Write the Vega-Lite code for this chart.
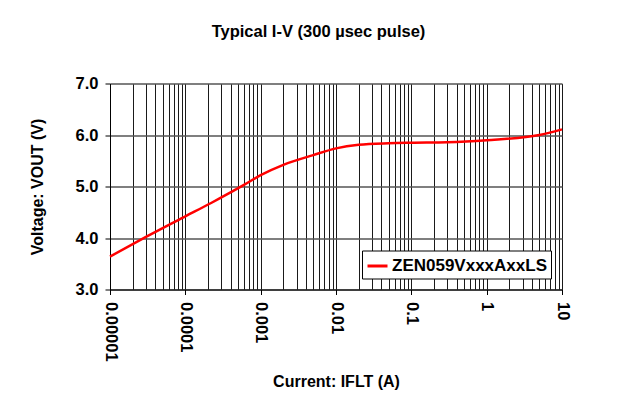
{
  "$schema": "https://vega.github.io/schema/vega-lite/v6.json",
  "width": 452,
  "height": 206,
  "autosize": {"type": "none"},
  "padding": {"left": 110, "top": 83.5, "right": 74, "bottom": 116.5},
  "background": "white",
  "title": {
    "text": "Typical I-V (300 µsec pulse)",
    "font": "Liberation Sans",
    "fontSize": 16.5,
    "fontWeight": "bold",
    "color": "black",
    "anchor": "middle",
    "baseline": "alphabetic",
    "dx": -17.5,
    "offset": 22
  },
  "data": {
    "values": [
      {"current": 0.00001, "voltage": 3.64, "series": "ZEN059VxxxAxxLS"},
      {"current": 0.00003, "voltage": 4.02, "series": "ZEN059VxxxAxxLS"},
      {"current": 0.0001, "voltage": 4.42, "series": "ZEN059VxxxAxxLS"},
      {"current": 0.00022, "voltage": 4.68, "series": "ZEN059VxxxAxxLS"},
      {"current": 0.0006, "voltage": 5.03, "series": "ZEN059VxxxAxxLS"},
      {"current": 0.001, "voltage": 5.22, "series": "ZEN059VxxxAxxLS"},
      {"current": 0.002, "voltage": 5.42, "series": "ZEN059VxxxAxxLS"},
      {"current": 0.005, "voltage": 5.61, "series": "ZEN059VxxxAxxLS"},
      {"current": 0.01, "voltage": 5.74, "series": "ZEN059VxxxAxxLS"},
      {"current": 0.02, "voltage": 5.81, "series": "ZEN059VxxxAxxLS"},
      {"current": 0.05, "voltage": 5.84, "series": "ZEN059VxxxAxxLS"},
      {"current": 0.1, "voltage": 5.85, "series": "ZEN059VxxxAxxLS"},
      {"current": 0.3, "voltage": 5.86, "series": "ZEN059VxxxAxxLS"},
      {"current": 1, "voltage": 5.9, "series": "ZEN059VxxxAxxLS"},
      {"current": 5, "voltage": 6.0, "series": "ZEN059VxxxAxxLS"},
      {"current": 10, "voltage": 6.11, "series": "ZEN059VxxxAxxLS"}
    ]
  },
  "mark": {"type": "line", "strokeWidth": 2.5, "interpolate": "monotone"},
  "encoding": {
    "x": {
      "field": "current",
      "type": "quantitative",
      "scale": {"type": "log", "domain": [0.00001, 10], "nice": false},
      "axis": {
        "title": "Current: IFLT (A)",
        "values": [0.00001, 0.00002, 0.00003, 0.00004, 0.00005, 0.00006, 0.00007, 0.00008, 0.00009,
                   0.0001, 0.0002, 0.0003, 0.0004, 0.0005, 0.0006, 0.0007, 0.0008, 0.0009,
                   0.001, 0.002, 0.003, 0.004, 0.005, 0.006, 0.007, 0.008, 0.009,
                   0.01, 0.02, 0.03, 0.04, 0.05, 0.06, 0.07, 0.08, 0.09,
                   0.1, 0.2, 0.3, 0.4, 0.5, 0.6, 0.7, 0.8, 0.9,
                   1, 2, 3, 4, 5, 6, 7, 8, 9, 10],
        "format": "~g",
        "labelExpr": "abs(log(datum.value)/LN10 - round(log(datum.value)/LN10)) < 0.001 ? datum.label : ''",
        "labelAngle": 90,
        "labelAlign": "left",
        "labelBaseline": "middle",
        "labelFont": "Liberation Sans",
        "labelFontSize": 16.5,
        "labelFontWeight": "bold",
        "labelColor": "black",
        "labelPadding": 7,
        "labelOverlap": false,
        "labelFlush": false,
        "tickSize": 5,
        "tickColor": "black",
        "tickOpacity": {"condition": {"test": "abs(log(datum.value)/LN10 - round(log(datum.value)/LN10)) < 0.001", "value": 1}, "value": 0},
        "domainColor": "black",
        "grid": true,
        "gridColor": "#1a1a1a",
        "gridWidth": 1,
        "titleFont": "Liberation Sans",
        "titleFontSize": 16,
        "titleFontWeight": "bold",
        "titleColor": "black",
        "titlePadding": 12
      }
    },
    "y": {
      "field": "voltage",
      "type": "quantitative",
      "scale": {"domain": [3, 7], "nice": false, "zero": false},
      "axis": {
        "title": "Voltage: VOUT (V)",
        "values": [3, 4, 5, 6, 7],
        "format": ".1f",
        "labelFont": "Liberation Sans",
        "labelFontSize": 16.5,
        "labelFontWeight": "bold",
        "labelColor": "black",
        "labelPadding": 7,
        "tickSize": 5,
        "tickColor": "black",
        "domainColor": "black",
        "grid": true,
        "gridColor": "#555555",
        "gridWidth": 1.3,
        "titleFont": "Liberation Sans",
        "titleFontSize": 16,
        "titleFontWeight": "bold",
        "titleColor": "black",
        "titlePadding": 30
      }
    },
    "color": {
      "field": "series",
      "type": "nominal",
      "scale": {"range": ["#ff0000"]},
      "legend": {
        "title": null,
        "orient": "bottom-right",
        "offset": 11,
        "strokeColor": "black",
        "fillColor": "white",
        "padding": 4,
        "cornerRadius": 0,
        "symbolType": "stroke",
        "symbolSize": 400,
        "symbolStrokeWidth": 3,
        "labelFont": "Liberation Sans",
        "labelFontSize": 17,
        "labelFontWeight": "bold",
        "labelColor": "black",
        "labelOffset": 3
      }
    }
  },
  "config": {"view": {"stroke": null}}
}
